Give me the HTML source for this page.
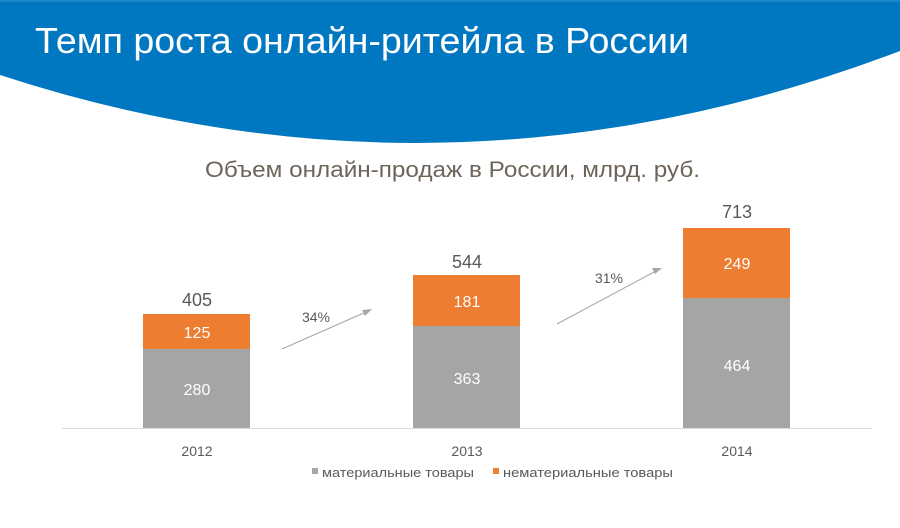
<!DOCTYPE html>
<html>
<head>
<meta charset="utf-8">
<style>
html,body{margin:0;padding:0;background:#fff;}
svg{display:block;}
text{font-family:"Liberation Sans","Noto Sans CJK SC",sans-serif;}
</style>
</head>
<body>
<svg width="900" height="528" viewBox="0 0 900 528" xmlns="http://www.w3.org/2000/svg">
  <rect x="0" y="0" width="900" height="528" fill="#ffffff"/>
  <!-- header -->
  <path d="M0,0 H900 V51 Q450,222 0,75 Z" fill="#0078c1"/>
  <rect x="0" y="0" width="900" height="2" fill="#1c88cc"/>
  <text x="35" y="53" font-size="36" fill="#ffffff" textLength="654" lengthAdjust="spacingAndGlyphs">Темп роста онлайн-ритейла в России</text>

  <!-- subtitle -->
  <text x="205" y="177" font-size="22" fill="#6d645a" textLength="495" lengthAdjust="spacingAndGlyphs">Объем онлайн-продаж в России, млрд. руб.</text>

  <!-- axis -->
  <line x1="62" y1="428.5" x2="872" y2="428.5" stroke="#d8ddd0" stroke-width="1"/>

  <!-- 2012 -->
  <rect x="143" y="349" width="107" height="79" fill="#a5a5a5"/>
  <rect x="143" y="314" width="107" height="35" fill="#ed7d31"/>
  <text x="197" y="306" font-size="18" fill="#595959" text-anchor="middle">405</text>
  <text x="197" y="338" font-size="16" fill="#ffffff" text-anchor="middle">125</text>
  <text x="197" y="395" font-size="16" fill="#ffffff" text-anchor="middle">280</text>
  <text x="197" y="456" font-size="14" fill="#595959" text-anchor="middle">2012</text>

  <!-- 2013 -->
  <rect x="413" y="326" width="107" height="102" fill="#a5a5a5"/>
  <rect x="413" y="275" width="107" height="51" fill="#ed7d31"/>
  <text x="467" y="268" font-size="18" fill="#595959" text-anchor="middle">544</text>
  <text x="467" y="307" font-size="16" fill="#ffffff" text-anchor="middle">181</text>
  <text x="467" y="384" font-size="16" fill="#ffffff" text-anchor="middle">363</text>
  <text x="467" y="456" font-size="14" fill="#595959" text-anchor="middle">2013</text>

  <!-- 2014 -->
  <rect x="683" y="298" width="107" height="130" fill="#a5a5a5"/>
  <rect x="683" y="228" width="107" height="70" fill="#ed7d31"/>
  <text x="737" y="218" font-size="18" fill="#595959" text-anchor="middle">713</text>
  <text x="737" y="269" font-size="16" fill="#ffffff" text-anchor="middle">249</text>
  <text x="737" y="371" font-size="16" fill="#ffffff" text-anchor="middle">464</text>
  <text x="737" y="456" font-size="14" fill="#595959" text-anchor="middle">2014</text>

  <!-- arrows -->
  <line x1="282" y1="349" x2="366" y2="312" stroke="#a6a6a6" stroke-width="1"/>
  <polygon points="372,309 362,310 365,316" fill="#a6a6a6"/>
  <text x="316" y="322" font-size="14" fill="#595959" text-anchor="middle">34%</text>

  <line x1="557" y1="324" x2="656" y2="271" stroke="#a6a6a6" stroke-width="1"/>
  <polygon points="662,268 652,268 655,274" fill="#a6a6a6"/>
  <text x="609" y="283" font-size="14" fill="#595959" text-anchor="middle">31%</text>

  <!-- legend -->
  <rect x="312" y="468" width="6" height="6" fill="#a5a5a5"/>
  <text x="322" y="477" font-size="13" fill="#595959" textLength="152" lengthAdjust="spacingAndGlyphs">материальные товары</text>
  <rect x="493" y="468" width="6" height="6" fill="#ed7d31"/>
  <text x="503" y="477" font-size="13" fill="#595959" textLength="170" lengthAdjust="spacingAndGlyphs">нематериальные товары</text>
</svg>
</body>
</html>
